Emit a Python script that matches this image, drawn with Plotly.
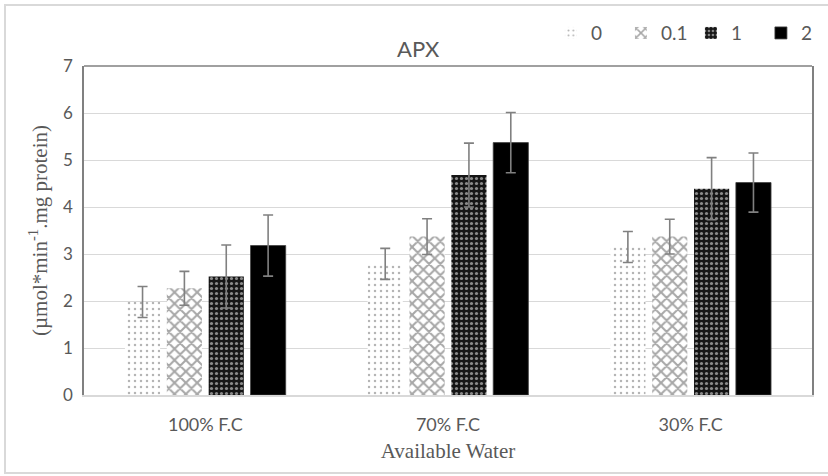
import plotly.graph_objects as go

categories = ["100% F.C", "70% F.C", "30% F.C"]
series_names = ["0", "0.1", "1", "2"]
values = {
    "0":   [1.98, 2.79, 3.15],
    "0.1": [2.27, 3.37, 3.37],
    "1":   [2.52, 4.68, 4.39],
    "2":   [3.18, 5.37, 4.52],
}
errors = {
    "0":   [0.33, 0.33, 0.33],
    "0.1": [0.36, 0.38, 0.37],
    "1":   [0.67, 0.68, 0.66],
    "2":   [0.65, 0.64, 0.63],
}

patterns = {
    "0":   dict(shape=".", fgcolor="#6a6a6a", bgcolor="white", size=6, solidity=0.14),
    "0.1": dict(shape="x", fgcolor="#505050", bgcolor="white", size=8, solidity=0.45),
    "1":   dict(shape=".", fgcolor="white", bgcolor="#151515", size=5, solidity=0.33),
    "2":   None,
}

fig = go.Figure()
for name in series_names:
    marker = dict(color="white" if name != "2" else "black",
                  line=dict(width=0.8 if name == "2" else 0, color="#404040"))
    if patterns[name] is not None:
        marker["pattern"] = patterns[name]
    fig.add_trace(go.Bar(
        name=name, x=categories, y=values[name],
        marker=marker,
        error_y=dict(type="data", array=errors[name], color="#808080",
                     thickness=1.6, width=5),
    ))

fig.update_layout(
    width=828, height=476,
    margin=dict(l=84, r=16, t=66, b=81, autoexpand=False),
    paper_bgcolor="white", plot_bgcolor="white",
    barmode="group", bargap=0.31, bargroupgap=0.16,
    title=dict(text="APX", x=0.505, xanchor="center", y=0.897, yanchor="middle",
               font=dict(family="Lato", size=22, color="#595959")),
    legend=dict(orientation="h", x=1.026, xanchor="right", y=1.10, yanchor="middle",
                bgcolor="rgba(0,0,0,0)", entrywidth=25, entrywidthmode="pixels",
                font=dict(family="Lato", size=19, color="#595959"),
                itemwidth=30, traceorder="normal"),
    showlegend=True,
    xaxis=dict(showline=True, linecolor="#d9d9d9", linewidth=1.5,
               tickfont=dict(family="Lato", size=18, color="#595959"),
               ticklabelstandoff=13,
               title=dict(text="Available Water", standoff=9,
                          font=dict(family="Liberation Serif", size=21, color="#595959")),
               ticks=""),
    yaxis=dict(range=[0, 7], dtick=1, showgrid=True, gridcolor="#d9d9d9", gridwidth=1,
               showline=True, linecolor="#808080", linewidth=1.5, mirror=True,
               zeroline=False, ticks="", ticklabelstandoff=6,
               tickfont=dict(family="Lato", size=17, color="#595959"),
               title=dict(text="(µmol*min<sup>-1</sup>.mg protein)", standoff=10,
                          font=dict(family="Liberation Serif", size=21, color="#595959"))),
    shapes=[
        dict(type="line", xref="paper", yref="paper", x0=0, x1=1, y0=1, y1=1,
             line=dict(color="#808080", width=1.5)),
        dict(type="rect", xref="paper", yref="paper",
             x0=-79/728, x1=830/728 - 84/728, y0=(476-81-473)/329, y1=(476-81-5)/329,
             line=dict(color="#d9d9d9", width=2), layer="below"),
    ],
)

fig.write_html("out.html")
